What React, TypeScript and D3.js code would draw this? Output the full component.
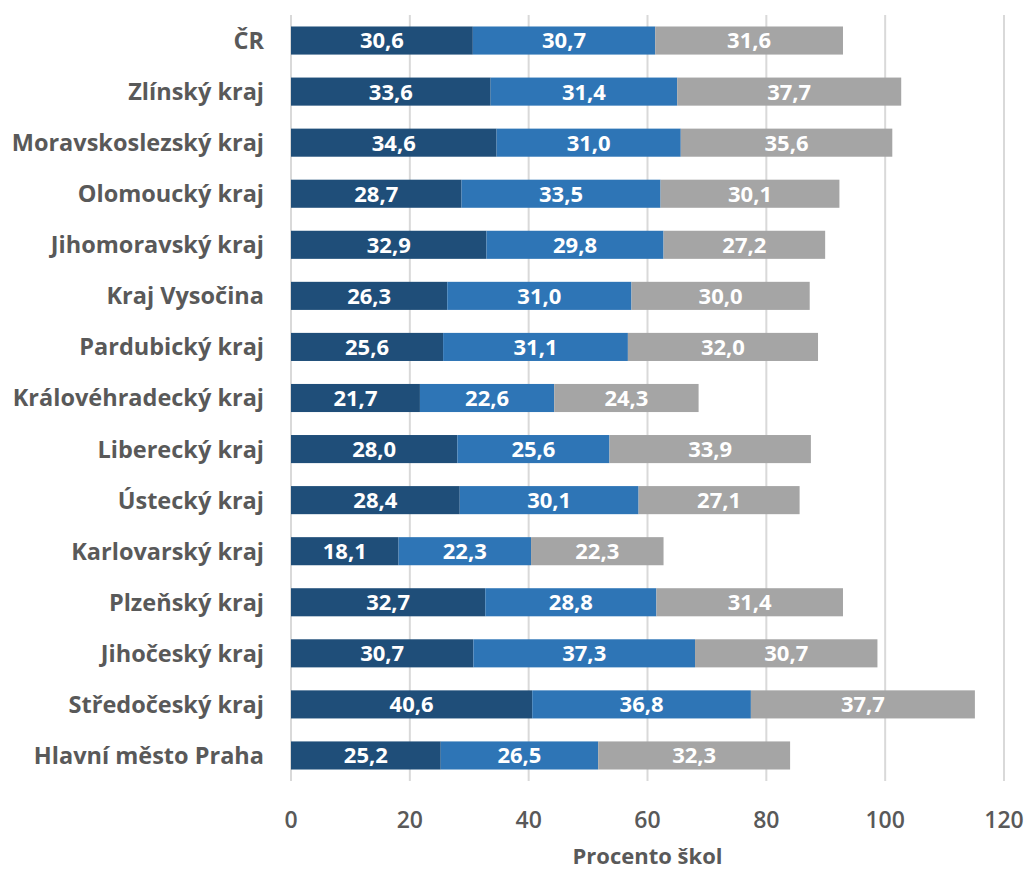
import * as d3 from "d3";

const regions = [
  "ČR",
  "Zlínský kraj",
  "Moravskoslezský kraj",
  "Olomoucký kraj",
  "Jihomoravský kraj",
  "Kraj Vysočina",
  "Pardubický kraj",
  "Královéhradecký kraj",
  "Liberecký kraj",
  "Ústecký kraj",
  "Karlovarský kraj",
  "Plzeňský kraj",
  "Jihočeský kraj",
  "Středočeský kraj",
  "Hlavní město Praha",
];

const seriesA = [30.6, 33.6, 34.6, 28.7, 32.9, 26.3, 25.6, 21.7, 28.0, 28.4, 18.1, 32.7, 30.7, 40.6, 25.2];
const seriesB = [30.7, 31.4, 31.0, 33.5, 29.8, 31.0, 31.1, 22.6, 25.6, 30.1, 22.3, 28.8, 37.3, 36.8, 26.5];
const seriesC = [31.6, 37.7, 35.6, 30.1, 27.2, 30.0, 32.0, 24.3, 33.9, 27.1, 22.3, 31.4, 30.7, 37.7, 32.3];

const xTicks = [0, 20, 40, 60, 80, 100, 120];
const colors = ["#1F4E79", "#2E75B6", "#A5A5A5"];

const width = 1027;
const height = 873;
const margin = { top: 15, right: 23, bottom: 92, left: 291 };
const font = "'Open Sans', sans-serif";

export default function App() {
  const rows = regions.map((r, i) => ({ r, vals: [seriesA[i], seriesB[i], seriesC[i]] }));

  const x = d3.scaleLinear().domain([0, 120]).range([margin.left, width - margin.right]);
  const y = d3
    .scaleBand()
    .domain(regions)
    .range([margin.top, height - margin.bottom])
    .paddingInner(0.45)
    .paddingOuter(0.225);

  const fmt = (v: number) => d3.format(".1f")(v).replace(".", ",");

  return (
    <div style={{ position: "absolute", left: 0, top: 0 }}>
      <svg width={width} height={height} style={{ display: "block", background: "#fff" }}>
        {/* grid */}
        {xTicks.map(t => (
          <line key={t} x1={x(t)} x2={x(t)} y1={margin.top} y2={height - margin.bottom}
            stroke="#D9D9D9" strokeWidth={2} />
        ))}

        {/* bars */}
        {rows.map(d => {
          let acc = 0;
          const by = y(d.r) ?? 0;
          const bh = y.bandwidth();
          return (
            <g key={d.r}>
              {d.vals.map((v, k) => {
                const x0 = x(acc);
                acc += v;
                const x1 = x(acc);
                return (
                  <g key={k}>
                    <rect x={x0} y={by} width={x1 - x0} height={bh} fill={colors[k]} />
                    <text x={(x0 + x1) / 2} y={by + bh / 2} dy="0.36em" textAnchor="middle"
                      fill="#fff" fontSize={22} fontWeight={700} fontFamily={font}>
                      {fmt(v)}
                    </text>
                  </g>
                );
              })}
              <text x={margin.left - 27} y={by + bh / 2} dy="0.36em" textAnchor="end"
                fill="#595959" fontSize={23.5} fontWeight={700} fontFamily={font}>
                {d.r}
              </text>
            </g>
          );
        })}

        {/* x tick labels */}
        {xTicks.map(t => (
          <text key={t} x={x(t)} y={828} textAnchor="middle" fill="#595959"
            fontSize={23} fontWeight={600} fontFamily={font}>
            {t}
          </text>
        ))}

        <text x={(x(0) + x(120)) / 2} y={864} textAnchor="middle" fill="#595959"
          fontSize={22} fontWeight={700} fontFamily={font}>
          Procento škol
        </text>
      </svg>
    </div>
  );
}
